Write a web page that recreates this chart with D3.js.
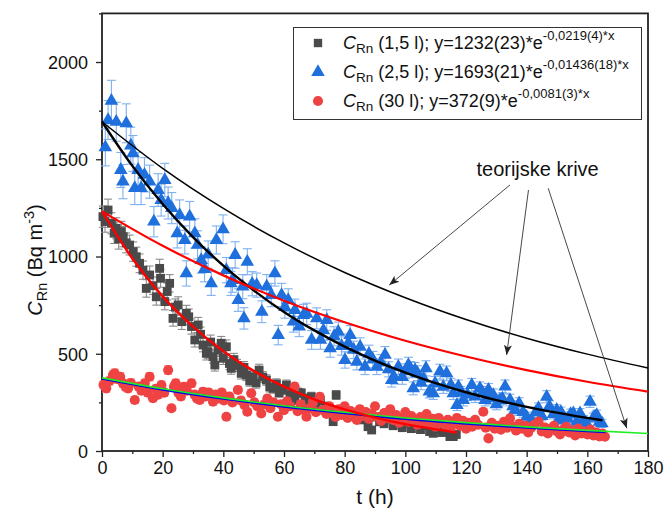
<!DOCTYPE html>
<html><head><meta charset="utf-8">
<script src="https://cdn.jsdelivr.net/npm/d3@7"></script>
<style>body{margin:0;background:#fff}svg{display:block;font-family:Arial,"Liberation Sans",sans-serif}</style>
</head><body><svg id="c" width="664" height="519"></svg>
<script>
// ---- data ----
const xTicks = [0,20,40,60,80,100,120,140,160,180];
const xMinor = [10,30,50,70,90,110,130,150,170];
const yTicks = [0,500,1000,1500,2000];
const yMinor = [250,750,1250,1750,2250];

// [t (h), C (Bq m-3), uncertainty]
const grayData = [
[0.3,1205,55],[1,1180,55],[2,1239,56],[3.1,1171,54],[4,1120,53],[4.7,1145,54],[5.5,1090,52],[6.4,1128,53],[7,1102,52],[8,1070,51],
[9.1,1059,51],[10.3,1025,50],[11.3,999,49],[12.4,965,48],[13.5,930,47],[14.6,836,45],[15.7,905,46],[16.8,850,45],[17.9,793,43],[19,939,47],
[19.3,888,46],[20.7,768,42],[21.5,820,44],[22.3,862,45],[23.4,682,40],[24.2,740,42],[25.1,751,42],[26.3,665,40],[27.8,708,41],[28.6,690,40],
[29.5,640,39],[30.6,571,36],[31.7,648,39],[32.5,600,37],[33.3,545,35],[34.4,502,34],[34.9,511,34],[35.8,560,36],[36.6,485,33],[37.2,442,31],
[38.3,520,34],[39.3,554,35],[40,477,32],[41,536,35],[42,450,31],[42.6,425,30],[43.5,470,32],[44.5,440,31],[45.9,399,29],[46.8,430,30],
[47.6,391,29],[48.7,360,27],[49.8,382,28],[50.8,350,27],[51.8,416,30],[53,380,28],[54.2,365,27],[55.3,330,26],[56.4,322,25],[57.5,345,26],
[58.4,300,24],[59.5,315,25],[60.8,339,26],[62,290,24],[63.5,262,23],[64.6,300,24],[65.7,297,24],[67,270,23],[68,250,22],[69,279,23],
[70.5,240,21],[72,260,22],[73.5,230,21],[75,215,20],[76.2,151,17],[77.2,288,23],[78.5,200,19],[80,210,20],[81.5,180,18],[83,195,19],
[84.5,170,18],[86,160,17],[87.7,125,15],[88.9,108,14],[90,175,18],[91.5,150,17],[93,140,16],[94.5,165,17],[96,130,15],[97.5,150,16],
[99,120,15],[100.5,140,16],[102,115,14],[103.8,160,17],[105,110,14],[106.5,130,15],[108,100,13],[109.2,91,13],[110.5,115,14],[112,95,13],
[113.5,105,14],[114.7,74,12],[115.8,74,12],[116.8,85,12]
];
const blueData = [
[1.1,1561,95],[2,1702,100],[3.1,1801,105],[4.7,1693,100],[6.2,1445,90],[6.9,1385,88],[8,1685,100],[9.5,1570,95],[10.2,1530,92],[10.8,1352,85],
[11.9,1445,90],[12.9,1352,85],[14,1420,88],[15.7,1385,85],[17.1,1179,78],[18.5,1342,84],[19.5,1290,82],[20.7,1393,86],[21.8,1275,82],[23,1249,80],
[24.8,1119,75],[25.6,1213,78],[27.3,1085,72],[27.8,913,65],[28.9,1205,78],[30.6,1119,75],[31.5,1060,72],[32.7,982,68],[33.8,936,66],[35,1010,70],
[36,862,62],[37.7,1085,72],[39.9,1140,74],[41,930,65],[42.5,862,62],[43,879,63],[43.9,1008,68],[44.9,776,58],[46.4,845,62],[46.8,682,55],
[47.9,973,67],[49.5,860,62],[51,853,62],[52.7,716,56],[54.3,845,62],[55.8,802,60],[57,913,65],[58.1,596,50],[59.2,802,60],[60.3,740,57],
[61.4,776,58],[63.1,665,54],[63.6,725,56],[65,640,52],[66.4,699,55],[67.5,705,55],[69.1,571,48],[70.8,682,54],[72,571,48],[73,620,50],
[74.1,673,53],[75.2,528,46],[76.5,590,49],[77.9,613,50],[79,540,47],[80.1,468,42],[81.2,555,47],[81.8,596,49],[83,520,45],[84,459,42],
[85.1,536,46],[86.7,433,40],[88,500,44],[89.3,470,42],[90.6,433,40],[92,455,41],[93.3,494,43],[94.5,420,39],[95.5,365,36],[96.3,380,36],
[97.7,433,40],[99,380,37],[100,410,38],[101,442,40],[101.8,420,40],[102.6,322,33],[103.2,416,39],[104,400,38],[105.2,350,35],[106,373,36],
[106.8,425,39],[107.9,305,32],[109.2,297,32],[109.8,348,35],[111.4,408,38],[112.5,330,34],[113.6,399,38],[115,340,34],[115.8,297,32],[117,236,28],
[117.5,331,34],[118.3,300,32],[119.1,262,30],[120.5,290,31],[121.9,339,34],[123,280,31],[124.6,322,33],[125.5,300,32],[126.3,262,30],[127.4,314,33],
[127.9,271,30],[129,288,31],[130,240,28],[131.2,262,30],[132,270,30],[132.9,331,34],[134.5,262,30],[135.5,230,28],[136.2,211,27],[137.5,245,29],
[138.8,200,26],[140,176,24],[141.7,159,23],[143,200,26],[143.9,220,27],[145,180,25],[146.6,279,31],[147.5,230,28],[148.8,190,25],[149.9,211,27],
[150.4,159,23],[151.3,200,26],[152.1,176,24],[153.5,165,23],[154.5,190,25],[155.4,193,25],[156.5,150,22],[157.6,193,25],[158.7,160,23],[159.8,140,21],
[160.9,253,29],[162,170,24],[162.5,176,24],[163.1,185,25],[164,150,22],[164.8,142,21]
];
const redData = [
[0.5,340,20],[1.4,322,20],[2.5,360,21],[3.6,391,22],[4.2,399,22],[5,370,21],[6,382,21],[6.9,348,20],[7.8,330,20],[8.6,322,19],
[9.5,350,20],[10.8,262,18],[12.1,331,20],[13,310,19],[14.1,348,20],[15.1,300,19],[15.7,382,21],[16.8,271,18],[17.8,320,19],[18.5,290,18],
[19.6,339,20],[20.5,300,19],[21.8,416,22],[22.9,220,17],[23.7,330,20],[24.3,348,20],[25.2,300,19],[26,280,18],[27,330,20],[28,310,19],
[29.5,348,20],[30.5,290,18],[31.3,270,18],[32.2,262,18],[33.3,305,19],[34.2,280,18],[35.2,300,19],[36.6,253,17],[37.5,290,18],[38.5,270,18],
[39.5,300,19],[40.2,260,17],[41,176,15],[42,280,18],[43,250,17],[44.8,314,19],[45.8,260,17],[47,236,16],[47.9,202,15],[49.2,297,19],
[50.2,250,17],[51.2,230,16],[52.5,193,15],[53.5,240,16],[54.5,270,17],[55.5,220,16],[56.5,250,17],[58,176,14],[59,240,16],[60,210,15],
[61,255,17],[62,230,16],[63.5,331,19],[64.5,205,15],[65.5,240,16],[66.5,215,15],[67.4,176,14],[68.5,220,15],[69.5,250,17],[70.5,200,15],
[71.8,279,18],[72.8,210,15],[74,190,14],[75,230,16],[76,200,15],[77,175,14],[78,215,15],[79,185,14],[80,230,16],[81,170,14],
[82,205,15],[83,190,14],[84,160,13],[85,215,15],[86,180,14],[87,200,15],[88,165,13],[89,190,14],[90,230,16],[91,175,14],
[92,155,13],[93,195,14],[94,170,14],[95,215,15],[96,160,13],[97,185,14],[98,145,13],[99,170,14],[100,200,15],[101,150,13],
[102,180,14],[103,160,13],[104,135,12],[105,175,14],[106,150,13],[107,190,14],[108,140,12],[109,165,13],[110,125,12],[111,170,14],
[112,150,13],[113,135,12],[114,160,13],[115,120,12],[116,145,13],[117,170,14],[118,130,12],[119,155,13],[120,115,11],[121,145,13],
[122,125,12],[123,160,13],[124,135,12],[125.7,202,15],[126.5,120,12],[127.4,65,10],[128.5,145,13],[129.5,115,11],[130.5,130,12],[131.5,110,11],
[132.5,150,13],[133.5,120,12],[134.5,168,14],[135.5,125,12],[136.5,105,11],[137.5,140,12],[138.5,115,11],[139.5,130,12],[140.5,95,10],[141.5,120,12],
[142.5,135,12],[143.9,151,13],[145,100,11],[146,120,12],[147,90,10],[148,115,11],[149,130,12],[150,100,11],[151,85,10],[152,110,11],
[153,125,12],[154,95,10],[155,105,11],[156,80,10],[157,115,11],[158,90,10],[159,100,11],[160,85,10],[161,110,11],[162,80,10],
[163,95,10],[164,75,10],[165,90,10],[165.8,74,10]
];

// fitted curves [t, C]
const fitGray  = [[0,1232],[10,990],[20,795],[30,639],[40,513],[50,412],[60,331],[70,266],[80,214],[90,172],[100,138],[110,111],[117,95]];
const fitBlue  = [[0,1693],[10,1466],[20,1270],[30,1100],[40,953],[50,826],[60,715],[70,620],[80,537],[90,465],[100,403],[110,349],[120,302],[130,262],[140,227],[150,197],[160,170],[165,158]];
const fitRed   = [[0,372],[20,316],[40,269],[60,229],[80,195],[100,165],[120,141],[140,120],[160,102],[166,97]];
// theoretical curves
const theoBlack = [[0,1693],[20,1453],[40,1247],[60,1070],[80,918],[100,788],[120,676],[140,580],[160,498],[180,427]];
const theoRed   = [[0,1232],[20,1055],[40,903],[60,773],[80,662],[100,567],[120,486],[140,416],[160,356],[180,305]];
const theoGreen = [[0,376],[20,320],[40,273],[60,233],[80,199],[100,170],[120,146],[140,124],[160,106],[180,90]];

const legendRows = [
  {label:" (1,5 l); y=1232(23)*e", sup:"-0,0219(4)*x"},
  {label:" (2,5 l); y=1693(21)*e", sup:"-0,01436(18)*x"},
  {label:" (30 l); y=372(9)*e", sup:"-0,0081(3)*x"}
];
const annotText = "teorijske krive";
const annotAnchor = [143.6, 1414];
const arrowsData = [
  [[134.5,1368],[94.7,853]],
  [[140.6,1342],[133.4,494]],
  [[147.1,1351],[173,117]]
];

// ---- drawing ----
const svg = d3.select("#c");
const x = d3.scaleLinear().domain([0,180]).range([102,648]);
const y = d3.scaleLinear().domain([0,2250]).range([451,13.4]);
const FS = 18;

// axes
const gx = svg.append("g").attr("transform","translate(0,451)")
  .call(d3.axisBottom(x).tickValues(xTicks).tickSize(6).tickPadding(4).tickFormat(d3.format("d")));
const gxm = svg.append("g").attr("transform","translate(0,451)")
  .call(d3.axisBottom(x).tickValues(xMinor).tickSize(3).tickFormat(""));
const gy = svg.append("g").attr("transform","translate(102,0)")
  .call(d3.axisLeft(y).tickValues(yTicks).tickSize(6).tickPadding(8).tickFormat(d3.format("d")));
const gym = svg.append("g").attr("transform","translate(102,0)")
  .call(d3.axisLeft(y).tickValues(yMinor).tickSize(3).tickFormat(""));
[gx,gxm,gy,gym].forEach(g=>{
  g.select(".domain").remove();
  g.selectAll(".tick line").attr("stroke","#222").attr("stroke-width",1.3);
  g.selectAll("text").attr("font-size",FS).attr("fill","#111").attr("font-family","Arial, 'Liberation Sans', sans-serif");
});
gy.selectAll("text").attr("dy","0.35em");

// frame
svg.append("rect").attr("x",x(0)).attr("y",y(2250)).attr("width",x(180)-x(0)).attr("height",y(0)-y(2250))
  .attr("fill","none").attr("stroke","#222").attr("stroke-width",1.8);

// series
function drawSeries(data, color, errColor, symType, size, cap){
  const g = svg.append("g");
  g.selectAll("line.e").data(data).join("line")
    .attr("x1",d=>x(d[0])).attr("x2",d=>x(d[0]))
    .attr("y1",d=>y(d[1]-d[2])).attr("y2",d=>y(d[1]+d[2]))
    .attr("stroke",errColor).attr("stroke-width",1.1);
  ["t","b"].forEach(k=>{
    g.selectAll("line.c"+k).data(data).join("line")
      .attr("x1",d=>x(d[0])-cap).attr("x2",d=>x(d[0])+cap)
      .attr("y1",d=>y(k==="t"?d[1]+d[2]:d[1]-d[2])).attr("y2",d=>y(k==="t"?d[1]+d[2]:d[1]-d[2]))
      .attr("stroke",errColor).attr("stroke-width",1.1);
  });
  const sym = d3.symbol().type(symType).size(size);
  g.selectAll("path").data(data).join("path")
    .attr("d",sym).attr("transform",d=>`translate(${x(d[0])},${y(d[1])})`)
    .attr("fill",color);
}
drawSeries(grayData,"#4a4a4a","#8a8a8a",d3.symbolSquare,78,4);
drawSeries(blueData,"#1f6fdc","#7fb0ef",d3.symbolTriangle,80,4.5);
drawSeries(redData,"#ef4343","#f29a9a",d3.symbolCircle,80,4);

// curves
const line = d3.line().x(d=>x(d[0])).y(d=>y(d[1])).curve(d3.curveMonotoneX);
function drawCurve(data,color,w){
  svg.append("path").datum(data).attr("d",line).attr("fill","none").attr("stroke",color).attr("stroke-width",w);
}
drawCurve(fitRed,"#0000ee",2.4);
drawCurve(theoGreen,"#22ee22",1.6);
drawCurve(fitGray,"#ff0000",2.4);
drawCurve(fitBlue,"#000000",2.4);
drawCurve(theoBlack,"#000000",1.5);
drawCurve(theoRed,"#ff0000",2.2);

// annotation arrows
const defs = svg.append("defs");
defs.append("marker").attr("id","ah").attr("viewBox","0 0 10 10").attr("refX",10).attr("refY",5)
  .attr("markerWidth",10).attr("markerHeight",10).attr("markerUnits","userSpaceOnUse").attr("orient","auto")
  .append("path").attr("d","M0,1 L10,5 L0,9 L2.5,5 Z").attr("fill","#222");
svg.selectAll("line.arr").data(arrowsData).join("line")
  .attr("x1",d=>x(d[0][0])).attr("y1",d=>y(d[0][1])).attr("x2",d=>x(d[1][0])).attr("y2",d=>y(d[1][1]))
  .attr("stroke","#333").attr("stroke-width",0.9).attr("marker-end","url(#ah)");
svg.append("text").attr("x",x(annotAnchor[0])).attr("y",y(annotAnchor[1])).attr("text-anchor","middle")
  .attr("font-size",20).attr("fill","#111").text(annotText);

// legend
const lg = svg.append("g");
lg.append("rect").attr("x",293.5).attr("y",27.5).attr("width",348).attr("height",92)
  .attr("fill","#fff").attr("stroke","#333").attr("stroke-width",1);
const rowY = [43,72,101];
const legSyms = [[d3.symbolSquare,"#4a4a4a",70],[d3.symbolTriangle,"#1f6fdc",80],[d3.symbolCircle,"#ef4343",80]];
legendRows.forEach((r,i)=>{
  lg.append("path").attr("d",d3.symbol().type(legSyms[i][0]).size(legSyms[i][2]))
    .attr("transform",`translate(318,${rowY[i]})`).attr("fill",legSyms[i][1]);
  const t = lg.append("text").attr("x",343).attr("y",rowY[i]+6).attr("font-size",18).attr("fill","#111");
  t.append("tspan").attr("font-style","italic").text("C");
  t.append("tspan").attr("font-size",13.5).attr("dy",4).text("Rn");
  t.append("tspan").attr("dy",-4).text(r.label);
  t.append("tspan").attr("font-size",13).attr("dy",-9).text(r.sup);
});

// axis titles
svg.append("text").attr("x",375).attr("y",504).attr("text-anchor","middle").attr("font-size",21).attr("fill","#111").text("t (h)");
const yt = svg.append("text").attr("transform","translate(42,260) rotate(-90)").attr("text-anchor","middle")
  .attr("font-size",20).attr("fill","#111");
yt.append("tspan").attr("font-style","italic").text("C");
yt.append("tspan").attr("font-size",14.5).attr("dy",5).text("Rn");
yt.append("tspan").attr("dy",-5).text(" (Bq m");
yt.append("tspan").attr("font-size",14.5).attr("dy",-8).text("-3");
yt.append("tspan").attr("dy",8).text(")");
</script></body></html>
